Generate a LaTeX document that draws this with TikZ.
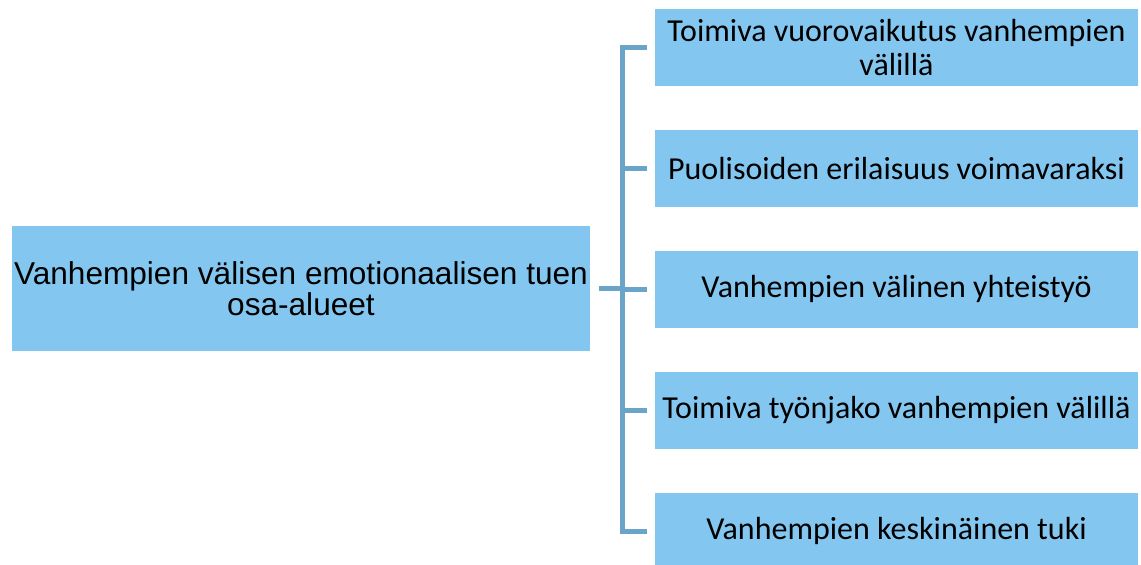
\documentclass[tikz,border=0pt]{standalone}
\usepackage{fontspec}
\setmainfont{Carlito}
\newfontfamily\arialfont{Liberation Sans}
\usetikzlibrary{positioning}

\definecolor{boxblue}{HTML}{83C7F0}
\definecolor{linkblue}{HTML}{6AA4C8}

\tikzset{
osa/.style={fill=boxblue, draw=none, minimum width=483pt, minimum height=77pt,
  align=center, inner sep=0pt, font=\fontsize{32}{34}\selectfont},
paa/.style={fill=boxblue, draw=none, minimum width=578pt, minimum height=125pt,
  align=center, inner sep=0pt, font=\arialfont\fontsize{31.6}{31}\selectfont},
haara/.style={draw=linkblue, line width=5pt},
}

\begin{document}
\begin{tikzpicture}[%
x={(1pt,0pt)},
y={(0pt,-1pt)},
]
\useasboundingbox (0,0) rectangle (1141,565);

%Laatikot
\node[paa] (paa) at (301,288.5) {Vanhempien välisen emotionaalisen tuen\\osa-alueet};
\node[osa] (o1) at (896.5,47.5) {Toimiva vuorovaikutus vanhempien\\välillä};
\node[osa, below=43.5pt of o1] (o2) {Puolisoiden erilaisuus voimavaraksi};
\node[osa, below=43.5pt of o2] (o3) {Vanhempien välinen yhteistyö};
\node[osa, below=43.5pt of o3] (o4) {Toimiva työnjako vanhempien välillä};
\node[osa, below=43.5pt of o4] (o5) {Vanhempien keskinäinen tuki};

%Runko
\coordinate (r1) at (622,0 |- o1.west);
\coordinate (r5) at (622,0 |- o5.west);
\coordinate (rk) at (622,0 |- paa.east);
\draw[haara] ([xshift=-8pt]o1.west) -- (r1) -- (r5) -- ([xshift=-8pt]o5.west);
\draw[haara] ([xshift=9pt]paa.east) -- (rk);
\foreach \i in {2,3,4}
  \draw[haara] (622,0 |- o\i.west) -- ([xshift=-8pt]o\i.west);

\end{tikzpicture}
\end{document}
